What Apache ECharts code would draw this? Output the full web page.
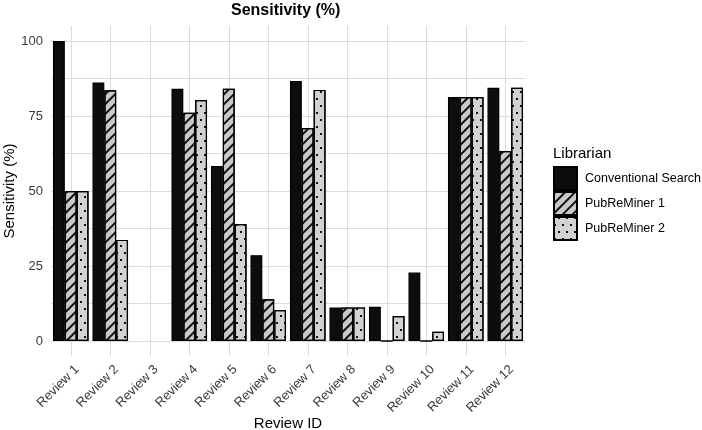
<!DOCTYPE html>
<html>
<head>
<meta charset="utf-8">
<script src="https://cdn.jsdelivr.net/npm/echarts@6/dist/echarts.min.js"></script>
<style>
  html, body { margin: 0; padding: 0; background: #fff; }
  #chart { width: 702px; height: 430px; }
</style>
</head>
<body>
<div id="chart"></div>
<script>
const categories = ["Review 1", "Review 2", "Review 3", "Review 4", "Review 5", "Review 6",
  "Review 7", "Review 8", "Review 9", "Review 10", "Review 11", "Review 12"];
const conventional = [100, 86.2, null, 84.1, 58.3, 28.6, 86.7, 11.2, 11.4, 22.8, 81.3, 84.4];
const pubReMiner1 = [50, 83.6, null, 76.1, 84.1, 13.9, 71, 11.2, 0, 0, 81.3, 63.3];
const pubReMiner2 = [50, 33.7, null, 80.3, 39, 10.3, 83.7, 11.2, 8.3, 3.1, 81.3, 84.4];
const yLabels = [0, 25, 50, 75, 100];
const yGrid = [0, 12.5, 25, 37.5, 50, 62.5, 75, 87.5, 100];

const FONT = "Liberation Sans, Arial, sans-serif";
const chart = echarts.init(document.getElementById("chart"));

const border = { borderColor: "#000", borderWidth: 1.2 };

chart.setOption({
  animation: false,
  textStyle: { fontFamily: FONT },
  title: [
    {
      text: "Sensitivity (%)",
      left: 231, top: 3, padding: 0,
      textStyle: { fontSize: 16, fontWeight: "bold", color: "#000", fontFamily: FONT }
    },
    {
      text: "Librarian",
      left: 553, top: 146, padding: 0,
      textStyle: { fontSize: 15, fontWeight: "normal", color: "#000", fontFamily: FONT }
    }
  ],
  legend: {
    orient: "vertical",
    left: 553, top: 166,
    itemWidth: 23, itemHeight: 23, itemGap: 0,
    icon: "rect",
    padding: 0,
    textStyle: { fontSize: 12.5, color: "#000", padding: [0, 0, 0, 3], fontFamily: FONT },
    data: ["Conventional Search", "PubReMiner 1", "PubReMiner 2"]
  },
  grid: { left: 51, right: 177, top: 26, bottom: 74, outerBoundsMode: "none", containLabel: false },
  xAxis: {
    type: "category",
    data: categories,
    name: "Review ID",
    nameLocation: "middle",
    nameGap: 60,
    nameMoveOverlap: false,
    nameTextStyle: { fontSize: 15, color: "#000", fontFamily: FONT },
    axisLine: { show: false },
    axisTick: { show: false },
    axisLabel: {
      rotate: 45, margin: 5, fontSize: 13, color: "#3a3a3a", interval: 0,
      verticalAlign: "top", lineHeight: 18, fontFamily: FONT
    },
    splitLine: { show: true, alignWithLabel: true, lineStyle: { color: "#dcdcdc", width: 1 } }
  },
  yAxis: {
    type: "value",
    min: -5, max: 105,
    name: "Sensitivity (%)",
    nameLocation: "middle",
    nameGap: 34,
    nameMoveOverlap: false,
    nameTextStyle: { fontSize: 15, color: "#000", fontFamily: FONT },
    axisLine: { show: false },
    axisTick: { show: false, customValues: yGrid },
    axisLabel: { customValues: yLabels, fontSize: 13, color: "#3a3a3a", margin: 8, fontFamily: FONT },
    splitLine: { show: true, lineStyle: { color: "#dcdcdc", width: 1 } }
  },
  series: [
    {
      name: "Conventional Search",
      type: "bar",
      data: conventional,
      barGap: "0%",
      barCategoryGap: "10%",
      itemStyle: Object.assign({ color: "#0d0d0d" }, border)
    },
    {
      name: "PubReMiner 1",
      type: "bar",
      data: pubReMiner1,
      itemStyle: Object.assign({
        color: "#c9c9c9",
        decal: {
          symbol: "rect",
          color: "#111",
          dashArrayX: [1, 0],
          dashArrayY: [2, 4.5],
          rotation: -Math.PI / 4,
          symbolSize: 1
        }
      }, border)
    },
    {
      name: "PubReMiner 2",
      type: "bar",
      data: pubReMiner2,
      itemStyle: Object.assign({
        color: "#d2d2d2",
        decal: {
          symbol: "rect",
          color: "#111",
          symbolSize: 1,
          dashArrayX: [[2, 6], [0, 4, 2, 2]],
          dashArrayY: [2, 5],
          rotation: 0
        }
      }, border)
    }
  ]
});
</script>
</body>
</html>
